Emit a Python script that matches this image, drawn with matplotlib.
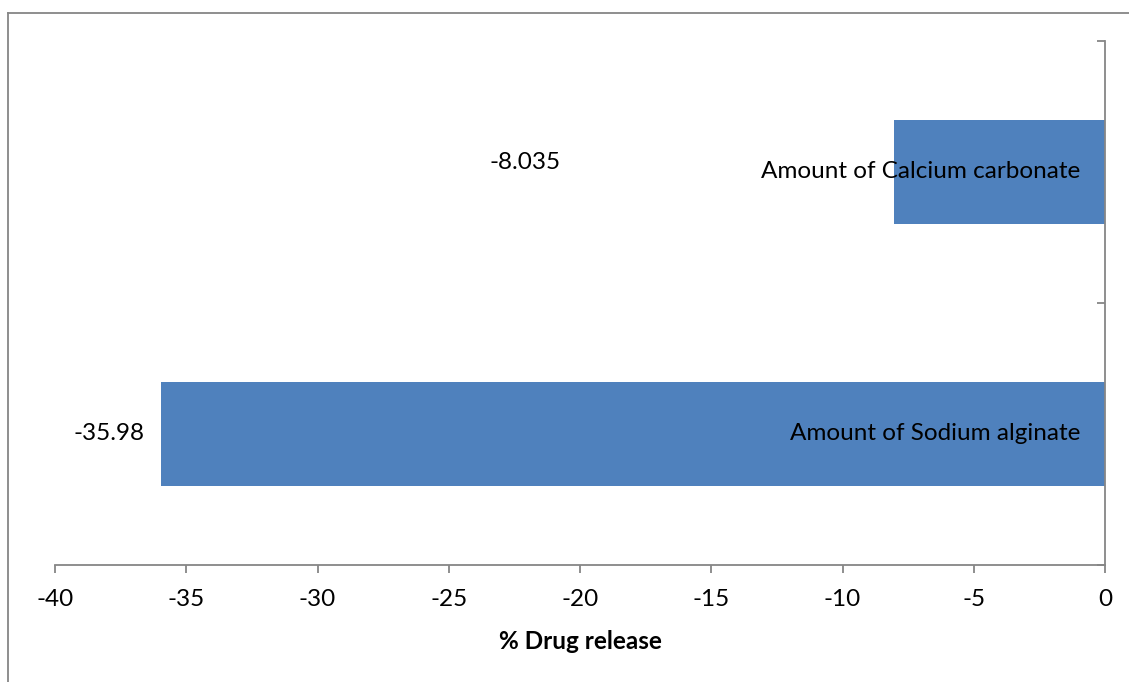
import matplotlib.pyplot as plt
from matplotlib.lines import Line2D

plt.rcParams['font.family'] = ['Lato', 'DejaVu Sans']

# bars from bottom to top
categories = ['Amount of Sodium alginate', 'Amount of Calcium carbonate']
values = [-35.98, -8.035]
xticks = [-40, -35, -30, -25, -20, -15, -10, -5, 0]
# x position (data units) of each value label
label_x = [-36.6, -22.1]
label_ha = ['right', 'center']
label_dy = [0.0, 0.035]

bar_color = '#4F81BD'
axis_color = '#868686'
fs = 17.5

fig = plt.figure(figsize=(11.29, 6.82), dpi=100)
W, H = 1129, 682
ax = fig.add_axes([55 / W, 1 - 565 / H, (1105 - 55) / W, (565 - 41) / H])

ypos = list(range(len(categories)))
ax.barh(ypos, values, height=0.4, color=bar_color, zorder=2)

ax.set_xlim(-40, 0)
ax.set_ylim(-0.5, len(categories) - 0.5)
ax.set_xticks(xticks)
ax.set_xticklabels([str(t) for t in xticks], fontsize=fs)
ax.set_yticks([i - 0.5 for i in range(len(categories) + 1)])
ax.set_yticklabels([])

ax.yaxis.tick_right()
for s in ['left', 'top']:
    ax.spines[s].set_visible(False)
for s in ['right', 'bottom']:
    ax.spines[s].set_color(axis_color)
    ax.spines[s].set_linewidth(1.3)
ax.tick_params(axis='x', direction='out', length=6, width=1.3, color=axis_color, pad=11)
ax.tick_params(axis='y', direction='in', length=6, width=1.3, color=axis_color)

ax.set_xlabel('% Drug release', fontsize=fs, fontweight='bold', labelpad=15)

# category names inside the bars, right aligned near the axis
for y, name in zip(ypos, categories):
    ax.annotate(name, xy=(0, y), xytext=(-18, 0), textcoords='offset points',
                ha='right', va='center', fontsize=fs, zorder=3)

# value labels
for y, v, lx, ha, dy in zip(ypos, values, label_x, label_ha, label_dy):
    ax.text(lx, y + dy, f'{v:g}', ha=ha, va='center', fontsize=fs, zorder=3)

# outer chart frame (top and left edges)
fig.add_artist(Line2D([8 / W, 1], [1 - 12.5 / H, 1 - 12.5 / H], color=axis_color, lw=1.3,
                      transform=fig.transFigure))
fig.add_artist(Line2D([8 / W, 8 / W], [0, 1 - 12.5 / H], color=axis_color, lw=1.3,
                      transform=fig.transFigure))

fig.savefig('out.png', dpi=100)
